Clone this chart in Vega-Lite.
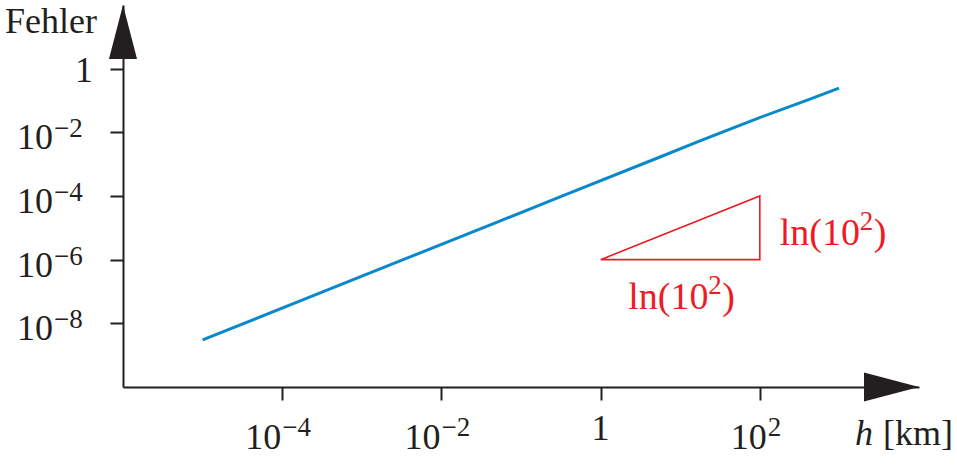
{
  "$schema": "https://vega.github.io/schema/vega-lite/v6.json",
  "width": 796,
  "height": 382,
  "autosize": {"type": "none"},
  "padding": {"left": 123, "top": 5, "right": 38, "bottom": 80},
  "background": "white",
  "config": {
    "view": {"stroke": null},
    "font": "Liberation Serif",
    "axis": {"title": null, "grid": false}
  },
  "datasets": {
    "curve": [
      {"h": 0.00001, "err": 3.02e-9},
      {"h": 0.00302, "err": 9.12e-7},
      {"h": 0.0550, "err": 1.66e-5},
      {"h": 0.309, "err": 9.33e-5},
      {"h": 5.57, "err": 1.68e-3},
      {"h": 17.7, "err": 5.35e-3},
      {"h": 97.7, "err": 0.0285},
      {"h": 427, "err": 0.111},
      {"h": 989, "err": 0.245}
    ],
    "tri": [
      {"h": 1, "err": 1e-6, "o": 1},
      {"h": 100, "err": 1e-4, "o": 2},
      {"h": 100, "err": 1e-6, "o": 3},
      {"h": 1, "err": 1e-6, "o": 4}
    ],
    "xlab": [
      {"v": 0.0001, "b": "10", "e": "−4"},
      {"v": 0.01, "b": "10", "e": "−2"},
      {"v": 1, "b": "1", "e": ""},
      {"v": 100, "b": "10", "e": "2"}
    ],
    "ylab": [
      {"v": 1, "b": "1", "e": ""},
      {"v": 0.01, "b": "10", "e": "−2"},
      {"v": 0.0001, "b": "10", "e": "−4"},
      {"v": 0.000001, "b": "10", "e": "−6"},
      {"v": 0.00000001, "b": "10", "e": "−8"}
    ],
    "ln": [{"t": "ln(10", "s": "2", "c": ")"}],
    "yt": [{"t": "Fehler"}],
    "xt": [{"t": "h", "u": "[km]"}],
    "one": [{"k": 1}]
  },
  "layer": [
    {
      "data": {"name": "curve"},
      "mark": {"type": "line", "color": "#0a88cc", "strokeWidth": 3},
      "encoding": {
        "x": {
          "field": "h", "type": "quantitative",
          "scale": {"type": "log", "domain": [1e-6, 1e4], "nice": false},
          "axis": {"values": [0.0001, 0.01, 1, 100], "labels": false, "tickSize": 13, "tickWidth": 2, "domainWidth": 2, "domainColor": "#231f20", "tickColor": "#231f20", "title": null, "grid": false}
        },
        "y": {
          "field": "err", "type": "quantitative",
          "scale": {"type": "log", "domain": [1e-10, 100], "nice": false},
          "axis": {"values": [1, 0.01, 0.0001, 0.000001, 0.00000001], "labels": false, "tickSize": 13, "tickWidth": 2, "domainWidth": 2, "domainColor": "#231f20", "tickColor": "#231f20", "title": null, "grid": false}
        }
      }
    },
    {
      "data": {"name": "tri"},
      "mark": {"type": "line", "color": "#ed1c24", "strokeWidth": 1.6, "strokeJoin": "miter"},
      "encoding": {
        "x": {"field": "h", "type": "quantitative"},
        "y": {"field": "err", "type": "quantitative"},
        "order": {"field": "o", "type": "quantitative"}
      }
    },
    {
      "data": {"name": "one"},
      "mark": {"type": "point", "filled": true, "shape": "M0,0L0.52,2L-0.52,2Z", "size": 2916, "color": "#231f20", "opacity": 1, "strokeWidth": 0},
      "encoding": {
        "x": {"datum": 1e-6, "type": "quantitative"},
        "y": {"datum": 100, "type": "quantitative"}
      }
    },
    {
      "data": {"name": "one"},
      "mark": {"type": "point", "filled": true, "shape": "M0,0L-2,-0.53L-2,0.53Z", "size": 3025, "color": "#231f20", "opacity": 1, "strokeWidth": 0},
      "encoding": {
        "x": {"datum": 10000, "type": "quantitative"},
        "y": {"datum": 1e-10, "type": "quantitative"}
      }
    },
    {
      "data": {"name": "xlab"},
      "transform": [{"filter": "datum.v < 1"}],
      "mark": {"type": "text", "align": "right", "baseline": "alphabetic", "dx": -1, "dy": 62, "fontSize": 36, "color": "#231f20"},
      "encoding": {
        "x": {"field": "v", "type": "quantitative"},
        "y": {"datum": 1e-10, "type": "quantitative"},
        "text": {"field": "b"}
      }
    },
    {
      "data": {"name": "xlab"},
      "transform": [{"filter": "datum.v < 1"}],
      "mark": {"type": "text", "align": "left", "baseline": "alphabetic", "dx": 0, "dy": 49, "fontSize": 27, "color": "#231f20"},
      "encoding": {
        "x": {"field": "v", "type": "quantitative"},
        "y": {"datum": 1e-10, "type": "quantitative"},
        "text": {"field": "e"}
      }
    },
    {
      "data": {"name": "xlab"},
      "transform": [{"filter": "datum.v > 1"}],
      "mark": {"type": "text", "align": "right", "baseline": "alphabetic", "dx": 7, "dy": 62, "fontSize": 36, "color": "#231f20"},
      "encoding": {
        "x": {"field": "v", "type": "quantitative"},
        "y": {"datum": 1e-10, "type": "quantitative"},
        "text": {"field": "b"}
      }
    },
    {
      "data": {"name": "xlab"},
      "transform": [{"filter": "datum.v > 1"}],
      "mark": {"type": "text", "align": "left", "baseline": "alphabetic", "dx": 8, "dy": 49, "fontSize": 27, "color": "#231f20"},
      "encoding": {
        "x": {"field": "v", "type": "quantitative"},
        "y": {"datum": 1e-10, "type": "quantitative"},
        "text": {"field": "e"}
      }
    },
    {
      "data": {"name": "xlab"},
      "transform": [{"filter": "datum.v == 1"}],
      "mark": {"type": "text", "align": "center", "baseline": "alphabetic", "dy": 53, "fontSize": 36, "color": "#231f20"},
      "encoding": {
        "x": {"field": "v", "type": "quantitative"},
        "y": {"datum": 1e-10, "type": "quantitative"},
        "text": {"field": "b"}
      }
    },
    {
      "data": {"name": "ylab"},
      "transform": [{"filter": "datum.v < 1"}],
      "mark": {"type": "text", "align": "right", "baseline": "alphabetic", "dx": -70, "dy": 17, "fontSize": 36, "color": "#231f20"},
      "encoding": {
        "x": {"datum": 1e-6, "type": "quantitative"},
        "y": {"field": "v", "type": "quantitative"},
        "text": {"field": "b"}
      }
    },
    {
      "data": {"name": "ylab"},
      "transform": [{"filter": "datum.v < 1"}],
      "mark": {"type": "text", "align": "left", "baseline": "alphabetic", "dx": -69, "dy": 5, "fontSize": 27, "color": "#231f20"},
      "encoding": {
        "x": {"datum": 1e-6, "type": "quantitative"},
        "y": {"field": "v", "type": "quantitative"},
        "text": {"field": "e"}
      }
    },
    {
      "data": {"name": "ylab"},
      "transform": [{"filter": "datum.v == 1"}],
      "mark": {"type": "text", "align": "right", "baseline": "alphabetic", "dx": -30, "dy": 13, "fontSize": 36, "color": "#231f20"},
      "encoding": {
        "x": {"datum": 1e-6, "type": "quantitative"},
        "y": {"field": "v", "type": "quantitative"},
        "text": {"field": "b"}
      }
    },
    {
      "data": {"name": "yt"},
      "mark": {"type": "text", "align": "right", "baseline": "alphabetic", "dx": -26, "dy": 28, "fontSize": 36, "color": "#231f20"},
      "encoding": {
        "x": {"datum": 1e-6, "type": "quantitative"},
        "y": {"datum": 100, "type": "quantitative"},
        "text": {"field": "t"}
      }
    },
    {
      "data": {"name": "xt"},
      "mark": {"type": "text", "align": "left", "baseline": "alphabetic", "dx": -64, "dy": 58, "fontSize": 36, "fontStyle": "italic", "color": "#231f20"},
      "encoding": {
        "x": {"datum": 10000, "type": "quantitative"},
        "y": {"datum": 1e-10, "type": "quantitative"},
        "text": {"field": "t"}
      }
    },
    {
      "data": {"name": "xt"},
      "mark": {"type": "text", "align": "left", "baseline": "alphabetic", "dx": -36, "dy": 58, "fontSize": 36, "color": "#231f20"},
      "encoding": {
        "x": {"datum": 10000, "type": "quantitative"},
        "y": {"datum": 1e-10, "type": "quantitative"},
        "text": {"field": "u"}
      }
    },
    {
      "data": {"name": "ln"},
      "mark": {"type": "text", "align": "left", "baseline": "alphabetic", "dx": 20, "dy": 17, "fontSize": 38, "color": "#ed1c24"},
      "encoding": {
        "x": {"datum": 100, "type": "quantitative"},
        "y": {"datum": 1e-5, "type": "quantitative"},
        "text": {"field": "t"}
      }
    },
    {
      "data": {"name": "ln"},
      "mark": {"type": "text", "align": "left", "baseline": "alphabetic", "dx": 100, "dy": 2, "fontSize": 27, "color": "#ed1c24"},
      "encoding": {
        "x": {"datum": 100, "type": "quantitative"},
        "y": {"datum": 1e-5, "type": "quantitative"},
        "text": {"field": "s"}
      }
    },
    {
      "data": {"name": "ln"},
      "mark": {"type": "text", "align": "left", "baseline": "alphabetic", "dx": 114, "dy": 17, "fontSize": 38, "color": "#ed1c24"},
      "encoding": {
        "x": {"datum": 100, "type": "quantitative"},
        "y": {"datum": 1e-5, "type": "quantitative"},
        "text": {"field": "c"}
      }
    },
    {
      "data": {"name": "ln"},
      "mark": {"type": "text", "align": "left", "baseline": "alphabetic", "dx": -52, "dy": 49, "fontSize": 38, "color": "#ed1c24"},
      "encoding": {
        "x": {"datum": 10, "type": "quantitative"},
        "y": {"datum": 1e-6, "type": "quantitative"},
        "text": {"field": "t"}
      }
    },
    {
      "data": {"name": "ln"},
      "mark": {"type": "text", "align": "left", "baseline": "alphabetic", "dx": 28, "dy": 34, "fontSize": 27, "color": "#ed1c24"},
      "encoding": {
        "x": {"datum": 10, "type": "quantitative"},
        "y": {"datum": 1e-6, "type": "quantitative"},
        "text": {"field": "s"}
      }
    },
    {
      "data": {"name": "ln"},
      "mark": {"type": "text", "align": "left", "baseline": "alphabetic", "dx": 42, "dy": 49, "fontSize": 38, "color": "#ed1c24"},
      "encoding": {
        "x": {"datum": 10, "type": "quantitative"},
        "y": {"datum": 1e-6, "type": "quantitative"},
        "text": {"field": "c"}
      }
    }
  ]
}
